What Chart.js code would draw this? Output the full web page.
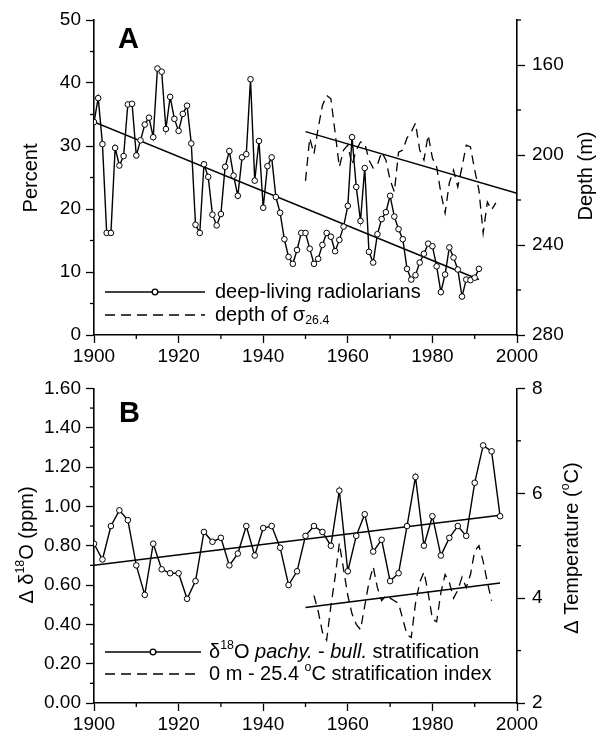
<!DOCTYPE html>
<html>
<head>
<meta charset="utf-8">
<script src="https://cdn.jsdelivr.net/npm/chart.js@4.4.0/dist/chart.umd.min.js"></script>
<style>
body { margin: 0; background: #fff; }
.box { position: absolute; left: 0; width: 604px; }
#boxA { top: 0; height: 370px; }
#boxB { top: 370px; height: 369px; }
</style>
</head>
<body>
<div class="box" id="boxA"><canvas id="chartA" width="604" height="370"></canvas></div>
<div class="box" id="boxB"><canvas id="chartB" width="604" height="369"></canvas></div>
<script>
// ---- data, panel A ----
const radYears = [1900,1901,1902,1903,1904,1905,1906,1907,1908,1909,1910,1911,1912,1913,1914,1915,1916,1917,1918,1919,
  1920,1921,1922,1923,1924,1925,1926,1927,1928,1929,1930,1931,1932,1933,1934,1935,1936,1937,1938,1939,
  1940,1941,1942,1943,1944,1945,1946,1947,1948,1949,1950,1951,1952,1953,1954,1955,1956,1957,1958,1959,
  1960,1961,1962,1963,1964,1965,1966,1967,1968,1969,1970,1971,1972,1973,1974,1975,1976,1977,1978,1979,
  1980,1981,1982,1983,1984,1985,1986,1987,1988,1989,1990,1991];
const radPercent = [33.8,37.6,30.3,16.2,16.2,29.7,26.9,28.4,36.6,36.7,28.5,30.9,33.4,34.5,31.4,42.3,41.8,32.7,37.8,34.3,
  32.4,35.1,36.4,30.4,17.5,16.2,27.1,25.1,19.1,17.4,19.2,26.7,29.2,25.3,22.1,28.2,28.7,40.6,24.5,30.8,
  20.2,26.8,28.2,21.9,19.4,15.2,12.4,11.3,13.5,16.2,16.2,13.7,11.3,12.1,14.3,16.2,15.6,13.3,15.1,17.2,
  20.5,31.4,23.5,18.1,26.5,13.2,11.5,16.0,18.4,19.5,22.1,18.8,16.8,15.2,10.5,8.8,9.5,11.5,12.9,14.5,
  14.1,10.9,6.8,9.6,13.9,12.3,10.4,6.1,8.8,8.7,9.1,10.5];
const radTrendYears = [1900, 1991];
const radTrend = [33.8, 8.8];

const depthYears = [1950,1951,1952,1953,1954,1955,1956,1957,1958,1959,1960,1961,1962,1963,1964,1965,1966,1967,1968,1969,
  1970,1971,1972,1973,1974,1975,1976,1977,1978,1979,1980,1981,1982,1983,1984,1985,1986,1987,1988,1989,
  1990,1991,1992,1993,1994,1995];
const depthM = [211.5,192.4,199.5,188.0,178.0,173.5,175.0,190.0,205.3,197.8,195.6,204.4,197.8,194.2,194.7,202.2,205.8,204.4,198.7,202.2,
  211.1,216.4,198.7,197.8,192.4,189.8,185.8,197.8,202.2,191.1,201.3,205.3,216.9,225.8,212.4,206.7,214.2,205.3,195.6,196.4,
  206.7,215.6,234.7,220.9,224.4,221.3];
const depthTrendYears = [1950, 2000];
const depthTrend = [189.6, 217.0];

// ---- data, panel B ----
const o18Years = [1900,1902,1904,1906,1908,1910,1912,1914,1916,1918,1920,1922,1924,1926,1928,1930,1932,1934,1936,1938,
  1940,1942,1944,1946,1948,1950,1952,1954,1956,1958,1960,1962,1964,1966,1968,1970,1972,1974,1976,1978,
  1980,1982,1984,1986,1988,1990,1992,1994,1996];
const o18Values = [0.81,0.73,0.90,0.98,0.93,0.70,0.55,0.81,0.68,0.66,0.66,0.53,0.62,0.87,0.82,0.84,0.70,0.76,0.90,0.75,
  0.89,0.90,0.79,0.60,0.67,0.85,0.90,0.87,0.80,1.08,0.67,0.85,0.96,0.77,0.83,0.62,0.66,0.90,1.15,0.80,
  0.95,0.75,0.84,0.90,0.85,1.12,1.31,1.28,0.95];
const o18TrendYears = [1900, 1996];
const o18Trend = [0.70, 0.955];

const tempYears = [1952,1953,1954,1955,1956,1957,1958,1959,1960,1961,1962,1963,1964,1965,1966,1967,1968,1969,1970,1971,
  1972,1973,1974,1975,1976,1977,1978,1979,1980,1981,1982,1983,1984,1985,1986,1987,1988,1989,1990,1991,
  1992,1993,1994];
const tempIndex = [4.05,3.75,3.35,3.2,3.85,4.4,5.05,4.55,4.05,3.7,3.5,3.4,3.85,4.3,4.6,4.2,3.95,4.05,4.0,3.95,
  3.9,3.6,3.3,3.25,3.9,4.3,4.5,4.1,3.6,3.55,4.1,4.45,4.3,4.0,4.15,4.4,4.2,4.45,4.9,5.0,
  4.7,4.3,3.95];
const tempTrendYears = [1950, 1996];
const tempTrend = [3.82, 4.29];

// ---- tick labels ----
const yearLabels = [1900, 1920, 1940, 1960, 1980, 2000];
const pctLabels = [0, 10, 20, 30, 40, 50];
const depthLabels = [160, 200, 240, 280];
const o18Labels = [0, 0.2, 0.4, 0.6, 0.8, 1.0, 1.2, 1.4, 1.6];
const tempLabels = [2, 4, 6, 8];

const FONT = '"Liberation Sans", Arial, Helvetica, sans-serif';
Chart.defaults.font.family = FONT;
Chart.defaults.color = '#000';
Chart.defaults.animation = false;

function pts(xs, ys) { return xs.map((x, i) => ({ x: x, y: ys[i] })); }
function hasLabel(list, v) { return list.some(t => Math.abs(t - v) < 1e-6); }

function axis(pos, min, max, step, labels, fmt, size, pad) {
  return {
    type: 'linear', position: pos, min: min, max: max,
    ticks: {
      stepSize: step, autoSkip: false, maxRotation: 0, padding: pad,
      font: { size: 19 }, color: '#000',
      callback: v => hasLabel(labels, v) ? fmt(v) : ''
    },
    grid: {
      drawOnChartArea: false, tickLength: 8, tickWidth: 1.3,
      tickColor: c => hasLabel(labels, c.tick.value) ? '#000' : 'rgba(0,0,0,0)'
    },
    border: { color: '#000', width: 1.6 },
    afterFit: s => { if (pos === 'bottom') s.height = size; else s.width = size; }
  };
}

// short ticks for the unlabelled steps
function minorTicks(majors) {
  return {
    id: 'minorTicks',
    afterDraw(chart) {
      const ctx = chart.ctx;
      ctx.save();
      ctx.strokeStyle = '#000';
      ctx.lineWidth = 1.3;
      Object.keys(majors).forEach(id => {
        const s = chart.scales[id];
        s.ticks.forEach(t => {
          if (hasLabel(majors[id], t.value)) return;
          const p = s.getPixelForValue(t.value);
          ctx.beginPath();
          if (s.position === 'bottom') { ctx.moveTo(p, s.top); ctx.lineTo(p, s.top + 4); }
          else if (s.position === 'left') { ctx.moveTo(s.right, p); ctx.lineTo(s.right - 4, p); }
          else { ctx.moveTo(s.left, p); ctx.lineTo(s.left + 4, p); }
          ctx.stroke();
        });
      });
      ctx.restore();
    }
  };
}

// text with sub/superscripts and italics
function richWidth(ctx, parts, base) {
  let w = 0;
  parts.forEach(p => {
    const size = (p.sup || p.sub) ? base * 0.62 : base;
    ctx.font = (p.italic ? 'italic ' : '') + size + 'px ' + FONT;
    w += ctx.measureText(p.t).width;
  });
  return w;
}
function richText(ctx, x, y, parts, base) {
  let cx = x;
  ctx.textBaseline = 'middle';
  ctx.textAlign = 'left';
  parts.forEach(p => {
    const size = (p.sup || p.sub) ? base * 0.62 : base;
    ctx.font = (p.italic ? 'italic ' : '') + size + 'px ' + FONT;
    const dy = p.sup ? -base * 0.33 : (p.sub ? base * 0.28 : 0);
    ctx.fillText(p.t, cx, y + dy);
    cx += ctx.measureText(p.t).width;
  });
}
function vertTitle(ctx, x, y, parts, base) {
  ctx.save();
  ctx.translate(x, y);
  ctx.rotate(-Math.PI / 2);
  const w = richWidth(ctx, parts, base);
  richText(ctx, -w / 2, 0, parts, base);
  ctx.restore();
}
function legendRow(ctx, y, x1, x2, dashed, marker, parts, tx) {
  ctx.save();
  ctx.strokeStyle = '#000';
  ctx.lineWidth = 1.3;
  ctx.setLineDash(dashed ? [10, 6] : []);
  ctx.beginPath(); ctx.moveTo(x1, y); ctx.lineTo(x2, y); ctx.stroke();
  ctx.setLineDash([]);
  if (marker) {
    ctx.fillStyle = '#fff';
    ctx.beginPath(); ctx.arc((x1 + x2) / 2, y, 2.8, 0, Math.PI * 2); ctx.fill(); ctx.stroke();
  }
  ctx.fillStyle = '#000';
  richText(ctx, tx, y, parts, 20);
  ctx.restore();
}

function decorations(draw) {
  return { id: 'decorations', afterDraw(chart) { draw(chart.ctx); } };
}

const solid = { borderColor: '#000', borderWidth: 1.4, pointRadius: 2.8, pointBackgroundColor: '#fff',
  pointBorderColor: '#000', pointBorderWidth: 1, tension: 0, fill: false };
const trend = { borderColor: '#000', borderWidth: 1.5, pointRadius: 0, tension: 0, fill: false };
const dashed = { borderColor: '#000', borderWidth: 1.3, borderDash: [9, 6], pointRadius: 0, tension: 0, fill: false };

// Panel A
new Chart(document.getElementById('chartA'), {
  type: 'line',
  data: {
    datasets: [
      Object.assign({ data: pts(radYears, radPercent), yAxisID: 'y' }, solid),
      Object.assign({ data: pts(radTrendYears, radTrend), yAxisID: 'y' }, trend),
      Object.assign({ data: pts(depthYears, depthM), yAxisID: 'y2' }, dashed),
      Object.assign({ data: pts(depthTrendYears, depthTrend), yAxisID: 'y2' }, trend)
    ]
  },
  options: {
    responsive: false,
    layout: { padding: { top: 20, left: 0, right: 0, bottom: 0 } },
    plugins: { legend: { display: false }, tooltip: { enabled: false } },
    scales: {
      x: axis('bottom', 1900, 2000, 10, yearLabels, v => String(v), 35, 2),
      y: axis('left', 0, 50, 5, pctLabels, v => String(v), 94, 5),
      y2: Object.assign(axis('right', 140, 280, 20, depthLabels, v => String(v), 87, 7), { reverse: true })
    }
  },
  plugins: [
    minorTicks({ x: yearLabels, y: pctLabels, y2: depthLabels }),
    decorations(ctx => {
      ctx.save();
      ctx.fillStyle = '#000';
      ctx.font = 'bold 29px ' + FONT;
      ctx.textBaseline = 'alphabetic';
      ctx.fillText('A', 118, 48);
      vertTitle(ctx, 31, 178, [{ t: 'Percent' }], 20);
      vertTitle(ctx, 586, 176, [{ t: 'Depth (m)' }], 20);
      legendRow(ctx, 292, 105, 205, false, true, [{ t: 'deep-living radiolarians' }], 215);
      legendRow(ctx, 315, 105, 205, true, false, [{ t: 'depth of \u03c3' }, { t: '26.4', sub: true }], 215);
      ctx.restore();
    })
  ]
});

// Panel B
new Chart(document.getElementById('chartB'), {
  type: 'line',
  data: {
    datasets: [
      Object.assign({ data: pts(o18Years, o18Values), yAxisID: 'y' }, solid),
      Object.assign({ data: pts(o18TrendYears, o18Trend), yAxisID: 'y' }, trend),
      Object.assign({ data: pts(tempYears, tempIndex), yAxisID: 'y2' }, dashed),
      Object.assign({ data: pts(tempTrendYears, tempTrend), yAxisID: 'y2' }, trend)
    ]
  },
  options: {
    responsive: false,
    layout: { padding: { top: 18, left: 0, right: 0, bottom: 0 } },
    plugins: { legend: { display: false }, tooltip: { enabled: false } },
    scales: {
      x: axis('bottom', 1900, 2000, 10, yearLabels, v => String(v), 36, 2),
      y: axis('left', 0, 1.6, 0.1, o18Labels, v => v.toFixed(2), 94, 5),
      y2: axis('right', 2, 8, 1, tempLabels, v => String(v), 87, 7)
    }
  },
  plugins: [
    minorTicks({ x: yearLabels, y: o18Labels, y2: tempLabels }),
    decorations(ctx => {
      ctx.save();
      ctx.fillStyle = '#000';
      ctx.font = 'bold 29px ' + FONT;
      ctx.textBaseline = 'alphabetic';
      ctx.fillText('B', 119, 52);
      vertTitle(ctx, 27, 175, [{ t: '\u0394 \u03b4' }, { t: '18', sup: true }, { t: 'O (ppm)' }], 20);
      vertTitle(ctx, 572, 178, [{ t: '\u0394 Temperature (' }, { t: 'o', sup: true }, { t: 'C)' }], 20);
      legendRow(ctx, 282, 105, 201, false, true,
        [{ t: '\u03b4' }, { t: '18', sup: true }, { t: 'O ' }, { t: 'pachy.', italic: true }, { t: ' - ' },
         { t: 'bull.', italic: true }, { t: ' stratification' }], 209);
      legendRow(ctx, 304, 105, 201, true, false,
        [{ t: '0 m - 25.4 ' }, { t: 'o', sup: true }, { t: 'C stratification index' }], 209);
      ctx.restore();
    })
  ]
});
</script>
</body>
</html>
